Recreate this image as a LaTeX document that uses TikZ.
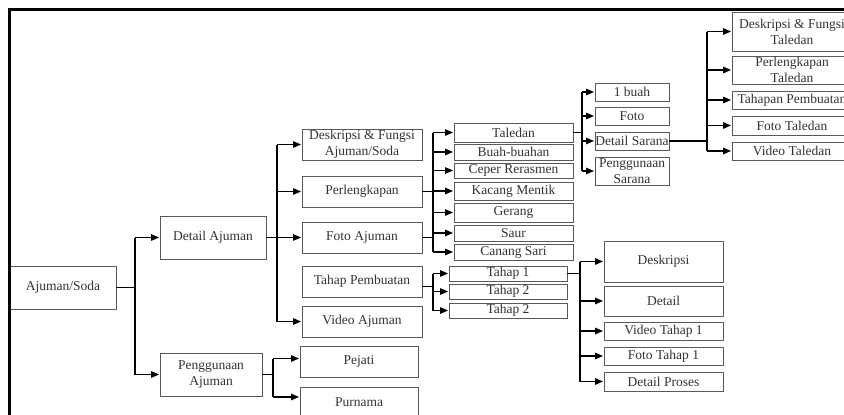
\documentclass[tikz,border=0pt]{standalone}
\usepackage{fontspec}
\setmainfont{Liberation Serif}
\usetikzlibrary{arrows.meta}
\tikzset{
  box/.style={draw=black!65, line width=0.9pt, rectangle, inner sep=0pt, align=center,
    text=black!80, font=\fontsize{13.5}{16}\selectfont},
  ln/.style={draw=black, line width=1.3pt},
  arr/.style={ln, -{Triangle[length=8pt,width=6.5pt]}, shorten >=0.5pt},
  frame/.style={draw=black, line width=2.8pt}
}
\newcommand\mybox[6]{\node[box,minimum width={#4-#2},minimum height={#5-#3}] (#1) at ({(#2+#4)/2},{(#3+#5)/2}) {#6};}
\begin{document}
\begin{tikzpicture}[x=1pt,y=-1pt]
\useasboundingbox (0,0) rectangle (844,415);
\clip (0,0) rectangle (844,415);
\fill[white] (0,0) rectangle (844,415);
% boxes
\mybox{soda}{10}{266}{116}{309}{Ajuman/Soda}
\mybox{detail}{160}{216}{266}{259}{Detail Ajuman}
\mybox{pengaj}{160}{353}{262}{396}{Penggunaan\\Ajuman}
\mybox{desc}{302}{129}{422}{160}{Deskripsi \& Fungsi\\Ajuman/Soda}
\mybox{perl}{302}{176}{422}{207}{Perlengkapan}
\mybox{foto}{302}{222}{422}{253}{Foto Ajuman}
\mybox{tahap}{302}{266}{422}{297}{Tahap Pembuatan}
\mybox{video}{302}{306}{422}{337}{Video Ajuman}
\mybox{pejati}{300}{346}{418}{377}{Pejati}
\mybox{purnama}{300}{387}{418}{418}{Purnama}
\mybox{taledan}{454}{123}{573}{142}{Taledan}
\mybox{buah}{454}{144}{573}{160}{Buah-buahan}
\mybox{ceper}{454}{163}{573}{178}{Ceper Rerasmen}
\mybox{kacang}{454}{182}{573}{200}{Kacang Mentik}
\mybox{gerang}{454}{203}{573}{222}{Gerang}
\mybox{saur}{454}{225}{573}{241}{Saur}
\mybox{canang}{454}{244}{573}{260}{Canang Sari}
\mybox{tA}{449}{266}{567}{281}{Tahap 1}
\mybox{tB}{449}{284}{567}{299}{Tahap 2}
\mybox{tC}{449}{303}{567}{318}{Tahap 2}
\mybox{satu}{595}{83}{669}{101}{1 buah}
\mybox{fotoS}{595}{107}{669}{125}{Foto}
\mybox{dsarana}{595}{132}{669}{150}{Detail Sarana}
\mybox{psarana}{595}{157}{669}{185}{Penggunaan\\Sarana}
\mybox{dft}{732}{12}{852}{51}{Deskripsi \& Fungsi\\Taledan}
\mybox{pt}{732}{56}{852}{84}{Perlengkapan\\Taledan}
\mybox{tpt}{732}{91}{852}{109}{Tahapan Pembuatan}
\mybox{ft}{732}{116}{852}{135}{Foto Taledan}
\mybox{vt}{732}{142}{852}{160}{Video Taledan}
\mybox{des}{604}{241}{723}{282}{Deskripsi}
\mybox{det}{604}{286}{723}{316}{Detail}
\mybox{vt1}{604}{322}{723}{340}{Video Tahap 1}
\mybox{ft1}{604}{347}{723}{365}{Foto Tahap 1}
\mybox{dp}{604}{372}{723}{391}{Detail Proses}
% bus coordinates
\coordinate (b1) at (135,0);
\coordinate (b2) at (277,0);
\coordinate (b3) at (273,0);
\coordinate (b4) at (433,0);
\coordinate (b6) at (582,0);
\coordinate (b7) at (707,0);
\coordinate (b8) at (580,0);
% Ajuman/Soda
\draw[ln] (soda.east) -- (soda.east -| b1);
\draw[ln] (b1 |- detail.west) -- (b1 |- pengaj.west);
\draw[arr] (b1 |- detail.west) -- (detail.west);
\draw[arr] (b1 |- pengaj.west) -- (pengaj.west);
% Detail Ajuman
\draw[ln] (detail.east) -- (detail.east -| b2);
\draw[ln] (b2 |- desc.west) -- (b2 |- video.west);
\foreach \n in {desc,perl,foto,video}{\draw[arr] (b2 |- \n.west) -- (\n.west);}
% Penggunaan Ajuman
\draw[ln] (pengaj.east) -- (pengaj.east -| b3);
\draw[ln] ([yshift=3pt]b3 |- pejati.west) -- ([yshift=5.5pt]b3 |- purnama.west);
\draw[arr] ([yshift=3pt]b3 |- pejati.west) -- ([yshift=3pt]pejati.west);
\draw[arr] ([yshift=5.5pt]b3 |- purnama.west) -- ([yshift=5.5pt]purnama.west);
% Perlengkapan / Foto Ajuman
\draw[ln] (perl.east) -- (perl.east -| b4);
\draw[ln] (foto.east) -- (foto.east -| b4);
\draw[ln] (b4 |- taledan.west) -- (b4 |- canang.west);
\foreach \n in {taledan,buah,ceper,kacang,gerang,saur,canang}{\draw[arr] (b4 |- \n.west) -- (\n.west);}
% Tahap Pembuatan
\draw[ln] ([yshift=-5pt]tahap.east) -- ([yshift=-5pt]tahap.east -| b4);
\draw[ln] (b4 |- tA.west) -- (b4 |- tC.west);
\foreach \n in {tA,tB,tC}{\draw[arr] (b4 |- \n.west) -- (\n.west);}
% Taledan
\draw[ln] (taledan.east) -- (taledan.east -| b6);
\draw[ln] (b6 |- satu.west) -- (b6 |- psarana.west);
\foreach \n in {satu,fotoS,dsarana,psarana}{\draw[arr] (b6 |- \n.west) -- (\n.west);}
% Detail Sarana
\draw[ln] (dsarana.east) -- (dsarana.east -| b7);
\draw[ln] (b7 |- dft.west) -- (b7 |- vt.west);
\foreach \n in {dft,pt,tpt,ft,vt}{\draw[arr] (b7 |- \n.west) -- (\n.west);}
% Tahap 1
\draw[ln] (tA.east) -- (tA.east -| b8);
\draw[ln] (b8 |- des.west) -- (b8 |- dp.west);
\foreach \n in {des,det,vt1,ft1,dp}{\draw[arr] (b8 |- \n.west) -- (\n.west);}
% frame
\draw[frame] (9.5,425) -- (9.5,9.5) -- (860,9.5);
\end{tikzpicture}
\end{document}
